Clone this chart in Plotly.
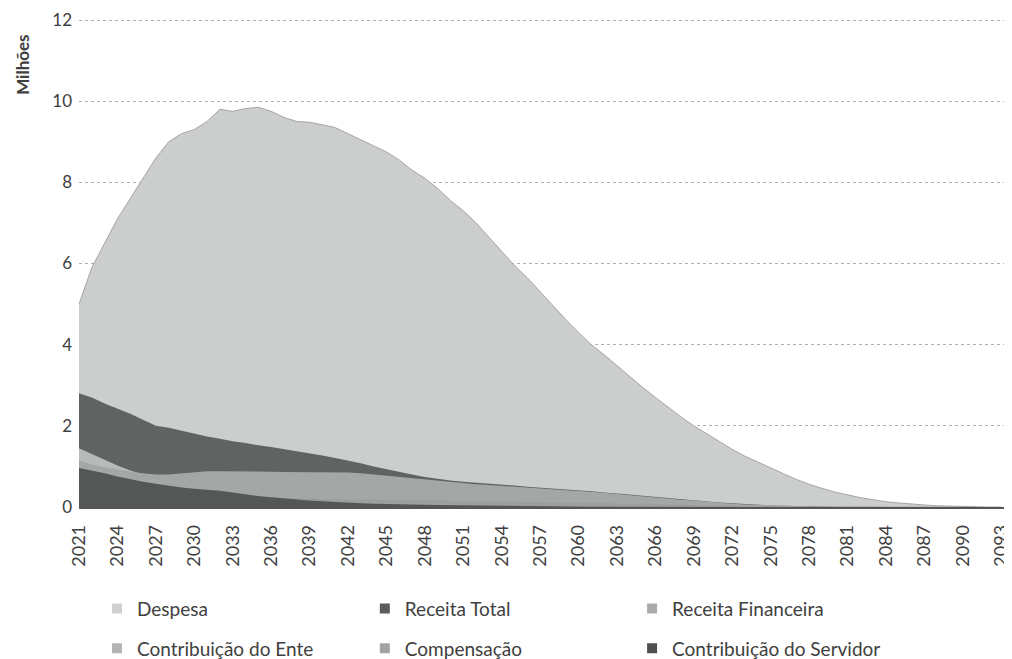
import plotly.graph_objects as go

years = list(range(2021, 2094))

despesa = [5.0, 5.9, 6.5, 7.1, 7.6, 8.1, 8.6, 9.0, 9.2, 9.3,
           9.5, 9.8, 9.75, 9.82, 9.85, 9.75, 9.6, 9.5, 9.48, 9.42,
           9.35, 9.2, 9.05, 8.92, 8.75, 8.55, 8.3, 8.1, 7.85, 7.55,
           7.3, 7.0, 6.65, 6.3, 5.95, 5.65, 5.3, 4.95, 4.62, 4.3,
           4.0, 3.75, 3.48, 3.2, 2.95, 2.7, 2.45, 2.22, 2.0, 1.8,
           1.6, 1.42, 1.25, 1.1, 0.96, 0.82, 0.68, 0.56, 0.46, 0.37,
           0.3, 0.23, 0.18, 0.13, 0.1, 0.07, 0.05, 0.03, 0.02, 0.01,
           0.005, 0.0, 0.0]

receita_total = [2.8, 2.7, 2.55, 2.42, 2.3, 2.15, 2.0, 1.95, 1.88, 1.8,
                 1.74, 1.68, 1.62, 1.58, 1.52, 1.48, 1.43, 1.38, 1.33, 1.27,
                 1.21, 1.15, 1.08, 1.0, 0.93, 0.86, 0.8, 0.74, 0.69, 0.65,
                 0.62, 0.6, 0.57, 0.55, 0.53, 0.5, 0.48, 0.46, 0.44, 0.42,
                 0.39, 0.36, 0.34, 0.31, 0.28, 0.25, 0.22, 0.19, 0.17, 0.14,
                 0.11, 0.09, 0.07, 0.05, 0.04, 0.03, 0.02, 0.015, 0.01, 0.008,
                 0.005, 0.003, 0.002, 0.001, 0.0, 0.0, 0.0, 0.0, 0.0, 0.0,
                 0.0, 0.0, 0.0]

receita_financeira = [1.45, 1.3, 1.15, 1.02, 0.9, 0.8, 0.7, 0.62, 0.55, 0.5,
                      0.46, 0.42, 0.39, 0.36, 0.33, 0.3, 0.28, 0.26, 0.24, 0.22,
                      0.2, 0.18, 0.16, 0.14, 0.12, 0.1, 0.08, 0.06, 0.04, 0.02,
                      0.0, 0.0, 0.0, 0.0, 0.0, 0.0, 0.0, 0.0, 0.0, 0.0,
                      0.0, 0.0, 0.0, 0.0, 0.0, 0.0, 0.0, 0.0, 0.0, 0.0,
                      0.0, 0.0, 0.0, 0.0, 0.0, 0.0, 0.0, 0.0, 0.0, 0.0,
                      0.0, 0.0, 0.0, 0.0, 0.0, 0.0, 0.0, 0.0, 0.0, 0.0,
                      0.0, 0.0, 0.0]

contribuicao_ente = [1.15, 1.05, 0.98, 0.92, 0.87, 0.83, 0.8, 0.8, 0.83, 0.86,
                     0.88, 0.88, 0.88, 0.88, 0.87, 0.87, 0.86, 0.86, 0.86, 0.86,
                     0.86, 0.85, 0.83, 0.8, 0.77, 0.73, 0.7, 0.67, 0.64, 0.61,
                     0.58, 0.56, 0.54, 0.52, 0.5, 0.48, 0.46, 0.44, 0.42, 0.4,
                     0.37, 0.35, 0.32, 0.29, 0.26, 0.24, 0.21, 0.18, 0.16, 0.13,
                     0.1, 0.08, 0.06, 0.05, 0.035, 0.025, 0.018, 0.012, 0.008, 0.005,
                     0.003, 0.002, 0.001, 0.0, 0.0, 0.0, 0.0, 0.0, 0.0, 0.0,
                     0.0, 0.0, 0.0]

compensacao = [0.3, 0.29, 0.29, 0.28, 0.28, 0.27, 0.27, 0.26, 0.26, 0.25,
               0.25, 0.24, 0.24, 0.23, 0.23, 0.22, 0.22, 0.21, 0.21, 0.2,
               0.2, 0.19, 0.19, 0.18, 0.18, 0.17, 0.17, 0.16, 0.16, 0.15,
               0.15, 0.14, 0.14, 0.13, 0.13, 0.12, 0.12, 0.11, 0.11, 0.1,
               0.1, 0.09, 0.09, 0.08, 0.08, 0.07, 0.06, 0.06, 0.05, 0.04,
               0.04, 0.03, 0.03, 0.02, 0.02, 0.01, 0.01, 0.005, 0.0, 0.0,
               0.0, 0.0, 0.0, 0.0, 0.0, 0.0, 0.0, 0.0, 0.0, 0.0,
               0.0, 0.0, 0.0]

contribuicao_servidor = [0.96, 0.9, 0.83, 0.75, 0.68, 0.62, 0.57, 0.52, 0.48, 0.45,
                         0.43, 0.4, 0.36, 0.31, 0.27, 0.24, 0.21, 0.18, 0.16, 0.14,
                         0.12, 0.1, 0.09, 0.08, 0.07, 0.065, 0.06, 0.055, 0.05, 0.045,
                         0.04, 0.035, 0.03, 0.027, 0.024, 0.021, 0.018, 0.015, 0.012, 0.01,
                         0.008, 0.006, 0.004, 0.002, 0.0, 0.0, 0.0, 0.0, 0.0, 0.0,
                         0.0, 0.0, 0.0, 0.0, 0.0, 0.0, 0.0, 0.0, 0.0, 0.0,
                         0.0, 0.0, 0.0, 0.0, 0.0, 0.0, 0.0, 0.0, 0.0, 0.0,
                         0.0, 0.0, 0.0]

series_names = ["Despesa", "Receita Total", "Receita Financeira",
                "Contribuição do Ente", "Compensação", "Contribuição do Servidor"]
series_values = [despesa, receita_total, receita_financeira,
                 contribuicao_ente, compensacao, contribuicao_servidor]
fill_colors = ["#cbcecd", "#5f6362", "#b7bab9", "#a4a7a6", "#9c9f9e", "#535756"]
edge_colors = ["#a3a6a5", "#5f6362", "#b7bab9", "#a4a7a6", "#9c9f9e", "#535756"]
swatch_colors = ["#cfd1d0", "#5a5d5c", "#a9abaa", "#b3b5b4", "#a2a4a3", "#4e5150"]
legend_ids = ["legend", "legend2", "legend3", "legend", "legend2", "legend3"]

tick_years = years[::3]
tick_labels = [str(y) for y in tick_years]
y_ticks = [0, 2, 4, 6, 8, 10, 12]

FONT = "Lato"

fig = go.Figure()
for name, vals, col, edge in zip(series_names, series_values, fill_colors, edge_colors):
    fig.add_trace(go.Scatter(
        x=years, y=vals, name=name, mode="lines",
        line=dict(width=1 if name == "Despesa" else 0, color=edge),
        fill="tozeroy", fillcolor=col,
        showlegend=False, hoverinfo="x+y+name"))

for name, col, lg in zip(series_names, swatch_colors, legend_ids):
    fig.add_trace(go.Scatter(
        x=[None], y=[None], name=name, mode="markers",
        marker=dict(symbol="square", size=10, color=col),
        legend=lg, legendgroup=name, showlegend=True))

leg_common = dict(orientation="v", yanchor="top", y=-0.169, xanchor="left",
                  font=dict(family=FONT, size=19, color="#404040"),
                  tracegroupgap=12, bgcolor="rgba(0,0,0,0)", itemwidth=30)

# page body has an 8px margin, so the figure is sized to fit the 1012x659 window
fig.update_layout(
    width=1004, height=651,
    margin=dict(l=71, r=5, t=10, b=152, autoexpand=False),
    paper_bgcolor="white", plot_bgcolor="white",
    font=dict(family=FONT, size=18, color="#404040"),
    legend=dict(x=0.0194, **leg_common),
    legend2=dict(x=0.308, **leg_common),
    legend3=dict(x=0.596, **leg_common),
    xaxis=dict(range=[2021, 2093.45], tickmode="array", tickvals=tick_years,
               ticktext=tick_labels, tickangle=-90, showgrid=False,
               showline=True, linecolor="#555555", linewidth=1.5,
               ticks="", ticklabelstandoff=9, automargin=False,
               ticklabeloverflow="allow",
               tickfont=dict(family=FONT, size=18, color="#404040"),
               zeroline=False),
    yaxis=dict(range=[0, 12.05], tickvals=y_ticks, showgrid=True,
               gridcolor="#b0b0b0", griddash="dot", gridwidth=1,
               zeroline=False, showline=False, ticks="", automargin=False,
               ticklabelstandoff=6, ticklabeloverflow="allow",
               tickfont=dict(family=FONT, size=17, color="#404040")),
    annotations=[dict(text="<b>Milhões</b>", textangle=-90, xref="paper",
                      yref="paper", x=-0.061, y=0.905, showarrow=False,
                      xanchor="center", yanchor="middle",
                      font=dict(family=FONT, size=17, color="#404040"))],
)

fig.write_html("out.html")
